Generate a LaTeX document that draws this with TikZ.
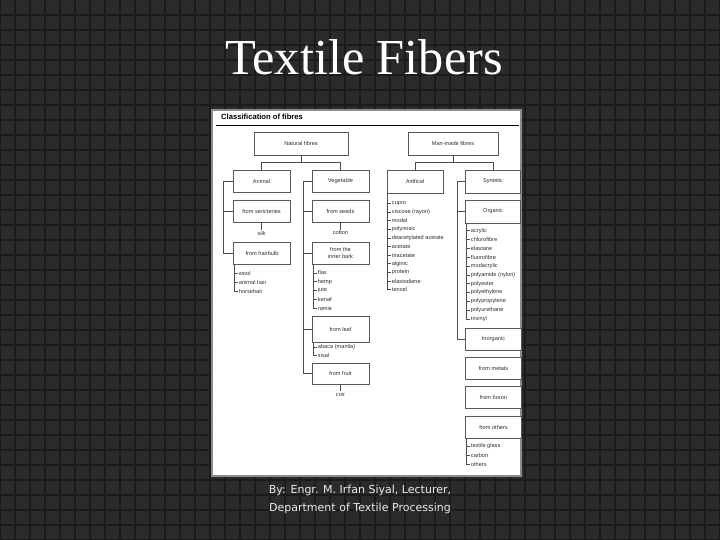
\documentclass[tikz,border=0pt]{standalone}
\usepackage{fontspec}
\setmainfont{Liberation Serif}
\newfontfamily\chartfont{Liberation Sans}
\newfontfamily\footfont{DejaVu Sans}
\usepackage{tikz}
\usetikzlibrary{positioning, calc, shadows}
\definecolor{slatebg}{HTML}{2B2B2B}
\definecolor{slategrid}{HTML}{1B1B1B}
\definecolor{inkgray}{HTML}{303030}

\tikzset{
  classbox/.style={draw=black!65, fill=white, line width=0.4pt,
    drop shadow={shadow xshift=0.5pt, shadow yshift=-0.5pt, fill=black!60},
    minimum width=1.71cm, minimum height=0.66cm, inner sep=1pt, align=center,
    font=\chartfont\fontsize{4.8}{5.2}\selectfont, text=inkgray},
  item/.style={anchor=west, inner sep=0.6pt, font=\chartfont\fontsize{4.8}{5.2}\selectfont, text=inkgray},
  link/.style={draw=black!70, line width=0.35pt},
}

\begin{document}
\begin{tikzpicture}[x=0.03cm, y=-0.03cm]
    \useasboundingbox (0,0) rectangle (720,540);
    % slide background
    \fill[slatebg] (0,0) rectangle (720,540);
    \foreach \k in {0,15,...,720}
        \draw[slategrid, line width=0.9pt] (\k,0) -- (\k,540);
    \foreach \k in {15,30,...,540}
        \draw[slategrid, line width=0.9pt] (0,\k) -- (720,\k);
    \node[anchor=base, text=white, font=\fontsize{43}{47}\selectfont, inner sep=0] (title) at (364,75) {Textile Fibers};

    % the chart
    \fill[white] (212,110) rectangle (521,476);
    \draw[black!45, line width=1pt] (212,110) rectangle (521,476);
    \node[anchor=base west, inner sep=0, font=\chartfont\bfseries\fontsize{6.5}{7}\selectfont] (head) at (221,120) {Classification of fibres};
    \draw[black, line width=0.7pt] (216,125) -- (519,125);

    \node[classbox, minimum width=2.82cm, minimum height=0.69cm] (nat) at (301,143.5) {Natural fibres};
    \node[classbox, minimum width=2.7cm, minimum height=0.69cm] (man) at (453,143.5) {Man-made fibres};

    \node[classbox] (animal) at (261.5,181) {Animal};
    \node[classbox] (veg) at (340.5,181) {Vegetable};
    \node[classbox] (seric) at (261.5,211) {from sericteries};
    \node[classbox] (seeds) at (340.5,211) {from seeds};
    \node[classbox] (hair) at (262,253.5) {from hairbulb};
    \node[classbox] (bark) at (340.5,253) {from the\\inner bark};
    \node[classbox, minimum height=0.78cm] (leaf) at (340.5,329.5) {from leaf};
    \node[classbox, minimum height=0.63cm] (fruit) at (340.5,373.5) {from fruit};

    \node[classbox, minimum width=1.68cm, minimum height=0.69cm] (artif) at (415,181.5) {Artifical};
    \node[classbox, minimum width=1.65cm, minimum height=0.69cm] (synth) at (493,181.5) {Syntetic};
    \node[classbox, minimum width=1.65cm, minimum height=0.69cm] (organic) at (493,211.5) {Organic};
    \node[classbox, minimum width=1.68cm] (inorg) at (493.5,339) {Inorganic};
    \node[classbox, minimum width=1.68cm] (metals) at (493.5,368.5) {from metals};
    \node[classbox, minimum width=1.68cm] (boron) at (493.5,397.5) {from boron};
    \node[classbox, minimum width=1.68cm] (others) at (493.5,427) {from others};

    % single products under a box
    \node[item, anchor=north] (silk) at (261.5,230) {silk};
    \node[item, anchor=north] (cotton) at (340.5,230) {cotton};
    \node[item, anchor=north] (coir) at (340.5,391) {coir};
    \draw[link] (seric.south) -- (silk.north);
    \draw[link] (seeds.south) -- (cotton.north);
    \draw[link] (fruit.south) -- (coir.north);

    % tree joints
    \draw[link] (nat.south) -- ++(0,7) coordinate (natj);
    \draw[link] (animal.north) |- (natj) -| (veg.north);
    \draw[link] (man.south) -- ++(0,7) coordinate (manj);
    \draw[link] (artif.north) |- (manj) -| (synth.north);

    % side buses
    \coordinate (abus) at (223,0);
    \coordinate (vbus) at (303,0);
    \coordinate (sbus) at (457,0);
    \coordinate (redge) at (521,0);
    \draw[link] (animal.west) -| (abus |- hair.west) -- (hair.west);
    \draw[link] (seric.west) -- (abus |- seric.west);
    \draw[link] (veg.west) -| (vbus |- fruit.west) -- (fruit.west);
    \foreach \b in {seeds, bark, leaf}
        \draw[link] (\b.west) -- (vbus |- \b.west);
    \draw[link] (synth.west) -| (sbus |- inorg.west) -- (inorg.west);
    \draw[link] (organic.west) -- (sbus |- organic.west);
    \foreach \b in {inorg, metals, boron, others}
        \draw[link] (\b.east) -- (redge |- \b.east);

    % lists of fibres
    \foreach \t [count=\i] in {wool, animal hair, horsehair}
        \node[item] (hb\i) at (238,{264+9*\i}) {\t};
    \coordinate (hbbus) at (234,264);
    \draw[link] (hbbus) |- (hb3.west);
    \foreach \i in {1,2}
        \draw[link] (hbbus |- hb\i.west) -- (hb\i.west);

    \foreach \t [count=\i] in {flax, hemp, jute, kenaf, ramie}
        \node[item] (ib\i) at (317,{264+8.8*\i}) {\t};
    \coordinate (ibbus) at (313,264);
    \draw[link] (ibbus) |- (ib5.west);
    \foreach \i in {1,...,4}
        \draw[link] (ibbus |- ib\i.west) -- (ib\i.west);

    \foreach \t [count=\i] in {abaca (manila), sisal}
        \node[item] (lf\i) at (317,{339+8*\i}) {\t};
    \coordinate (lfbus) at (313,343);
    \draw[link] (lfbus) |- (lf2.west);
    \draw[link] (lfbus |- lf1.west) -- (lf1.west);

    \foreach \t [count=\i] in {cupro, viscose (rayon), modal, polynosic, deacetylated acetate, acetate, triacetate, alginic, protein, elastodiene, tencel}
        \node[item] (ar\i) at (391,{194.5+8.65*\i}) {\t};
    \coordinate (arbus) at (387,193);
    \draw[link] (arbus) |- (ar11.west);
    \foreach \i in {1,...,10}
        \draw[link] (arbus |- ar\i.west) -- (ar\i.west);

    \foreach \t [count=\i] in {acrylic, chlorofibre, elastane, fluorofibre, modacrylic, polyamide (nylon), polyester, polyethylene, polypropylene, polyurethane, trivinyl}
        \node[item] (or\i) at (470,{221.7+8.85*\i}) {\t};
    \coordinate (orbus) at (466,223);
    \draw[link] (orbus) |- (or11.west);
    \foreach \i in {1,...,10}
        \draw[link] (orbus |- or\i.west) -- (or\i.west);

    \foreach \t [count=\i] in {textile glass, carbon, others}
        \node[item] (ot\i) at (470,{437+9*\i}) {\t};
    \coordinate (otbus) at (466,438);
    \draw[link] (otbus) |- (ot3.west);
    \foreach \i in {1,2}
        \draw[link] (otbus |- ot\i.west) -- (ot\i.west);

    % credit line
    \node[anchor=base, text=white!92!black, font=\footfont\fontsize{9.4}{11}\selectfont, inner sep=0] (by) at (360,493) {By: Engr. M. Irfan Siyal, Lecturer,};
    \node[anchor=base, text=white!92!black, font=\footfont\fontsize{9.4}{11}\selectfont, inner sep=0] (dept) at (360,511) {Department of Textile Processing};
\end{tikzpicture}
\end{document}
